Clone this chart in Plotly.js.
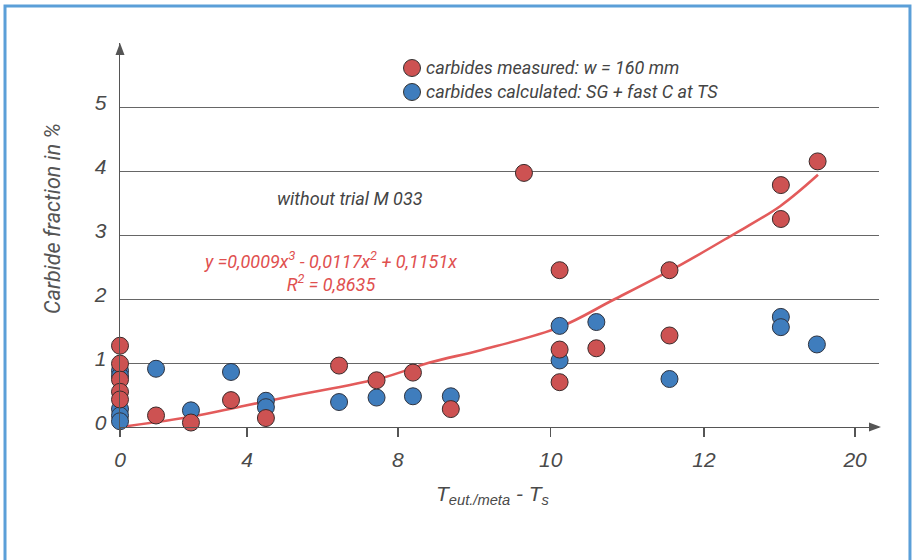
<!DOCTYPE html>
<html>
<head>
<meta charset="utf-8">
<script src="https://cdn.plot.ly/plotly-3.0.1.min.js"></script>
<style>html,body{margin:0;padding:0;background:#fff;}#chart{width:914px;height:560px;}</style>
</head>
<body>
<div id="chart"></div>
<script>
// Measured carbides (red)
const measuredX = [0, 0, 0, 0, 0, 0.98, 1.93, 3.02, 3.97, 5.96, 6.98, 7.97, 9.0, 10.99, 11.96, 11.96, 11.96, 12.96, 14.95, 14.95, 17.98, 17.98, 18.98];
const measuredY = [1.27, 0.99, 0.74, 0.55, 0.43, 0.18, 0.07, 0.42, 0.14, 0.96, 0.73, 0.85, 0.28, 3.97, 2.45, 1.21, 0.70, 1.23, 2.45, 1.43, 3.78, 3.25, 4.15];
// Calculated carbides (blue)
const calcX = [0, 0, 0, 0, 0, 0.98, 1.93, 3.02, 3.97, 3.97, 5.96, 6.98, 7.97, 9.0, 11.96, 11.96, 12.96, 14.95, 17.98, 17.98, 18.96];
const calcY = [0.88, 0.80, 0.28, 0.18, 0.09, 0.91, 0.26, 0.86, 0.41, 0.31, 0.39, 0.46, 0.48, 0.48, 1.58, 1.04, 1.64, 0.75, 1.72, 1.56, 1.29];
// Trend curve
const fitX = [0, 1.93, 3.29, 4.65, 7.09, 8.45, 9.81, 11.96, 13.40, 15.24, 16.60, 17.96, 18.99];
const fitY = [0, 0.16, 0.32, 0.48, 0.76, 1.01, 1.20, 1.56, 1.98, 2.53, 2.98, 3.45, 3.94];
// Axis ticks (printed labels at their printed positions)
const xTickPos = [0, 3.455, 7.56, 11.72, 15.89, 20];
const xTickText = ["0", "4", "8", "10", "12", "20"];
const yTickVals = [0, 1, 2, 3, 4, 5];
const yTickText = ["0", "1", "2", "3", "4", "5"];
const seriesNames = ["carbides measured: w = 160 mm", "carbides calculated: SG + fast C at TS"];

const RED = "#cd5252", BLUE = "#3f7dbd";
const axisFont = {family: "Liberation Sans, Arial, sans-serif", size: 21, color: "#4a4a4a", style: "italic"};
const textFont = {family: "Roboto, Liberation Sans, sans-serif", size: 18, color: "#444", style: "italic"};
const eqFont = {family: "Roboto, Liberation Sans, sans-serif", size: 18, color: "#e0504f", style: "italic"};

const traces = [
  {x: fitX, y: fitY, type: "scatter", mode: "lines", line: {color: "#e35b5b", width: 2.6, shape: "spline"}, showlegend: false, hoverinfo: "skip", cliponaxis: false},
  {x: calcX, y: calcY, type: "scatter", mode: "markers", name: seriesNames[1], showlegend: false,
   marker: {size: 17, color: BLUE, line: {color: "#2e3340", width: 1}}, cliponaxis: false},
  {x: measuredX, y: measuredY, type: "scatter", mode: "markers", name: seriesNames[0], showlegend: false,
   marker: {size: 17, color: RED, line: {color: "#3a2a2a", width: 1}}, cliponaxis: false}
];

function px2x(p) { return (p - 120) / 759; }
function px2y(p) { return (427 - p) / 384; }
function dot(cx, cy, color) {
  return {type: "circle", xref: "paper", yref: "paper", xsizemode: "pixel", ysizemode: "pixel",
    xanchor: px2x(cx), yanchor: px2y(cy), x0: -8.5, x1: 8.5, y0: -8.5, y1: 8.5,
    fillcolor: color, line: {color: "#333", width: 1}};
}

const layout = {
  width: 914, height: 560,
  margin: {l: 120, r: 35, t: 43, b: 133},
  paper_bgcolor: "#fff", plot_bgcolor: "#fff",
  showlegend: false,
  xaxis: {
    range: [0, 20.65], showgrid: false, zeroline: false,
    showline: true, linecolor: "#555", linewidth: 1.3,
    ticks: "outside", ticklen: 9, tickcolor: "#555", tickwidth: 1.3,
    tickvals: xTickPos, ticktext: xTickText, tickfont: axisFont, ticklabelstandoff: 4, fixedrange: true
  },
  yaxis: {
    range: [0, 6.0], showgrid: true, gridcolor: "#666", gridwidth: 1, zeroline: false,
    showline: true, linecolor: "#555", linewidth: 1.3,
    ticks: "", tickvals: yTickVals, ticktext: yTickText, tickfont: axisFont,
    ticklabelshift: -4, ticklabelstandoff: 8, fixedrange: true
  },
  shapes: [
    {type: "rect", xref: "paper", yref: "paper", x0: -0.1515, x1: 1.0408, y0: -0.40, y1: 1.0964,
     line: {color: "#5b9fd8", width: 3}, fillcolor: "rgba(0,0,0,0)", layer: "below"},
    {type: "path", xref: "paper", yref: "paper", xsizemode: "pixel", ysizemode: "pixel", xanchor: 0, yanchor: 1,
     path: "M0,0 L-4.5,-12 L4.5,-12 Z", fillcolor: "#555", line: {width: 0}},
    {type: "path", xref: "paper", yref: "paper", xsizemode: "pixel", ysizemode: "pixel", xanchor: px2x(881), yanchor: 0,
     path: "M0,0 L-12,4.5 L-12,-4.5 Z", fillcolor: "#555", line: {width: 0}},
    dot(412, 68, RED),
    dot(412, 92, BLUE)
  ],
  annotations: [
    {xref: "paper", yref: "paper", x: px2x(424), y: px2y(68), xanchor: "left", yanchor: "middle", text: seriesNames[0], showarrow: false, font: textFont},
    {xref: "paper", yref: "paper", x: px2x(424), y: px2y(92), xanchor: "left", yanchor: "middle", text: seriesNames[1], showarrow: false, font: textFont},
    {xref: "paper", yref: "paper", x: px2x(52), y: px2y(219), xanchor: "center", yanchor: "middle", text: "Carbide fraction in %", textangle: -90, showarrow: false,
     font: {family: "Roboto, Liberation Sans, sans-serif", size: 21.5, color: "#555", style: "italic"}},
    {xref: "paper", yref: "paper", x: px2x(493), y: px2y(495), xanchor: "center", yanchor: "middle", text: "T<sub>eut./meta</sub> - T<sub>s</sub>", showarrow: false, font: axisFont},
    {xref: "paper", yref: "paper", x: px2x(350), y: px2y(198), xanchor: "center", yanchor: "middle", text: "without trial M 033", showarrow: false, font: textFont},
    {xref: "paper", yref: "paper", x: px2x(330), y: px2y(271), xanchor: "center", yanchor: "middle", align: "center",
     text: "y =0,0009x<sup>3</sup> - 0,0117x<sup>2</sup> + 0,1151x<br>R<sup>2</sup> = 0,8635", showarrow: false, font: eqFont}
  ]
};

Plotly.newPlot("chart", traces, layout, {displayModeBar: false, staticPlot: true});
</script>
</body>
</html>
